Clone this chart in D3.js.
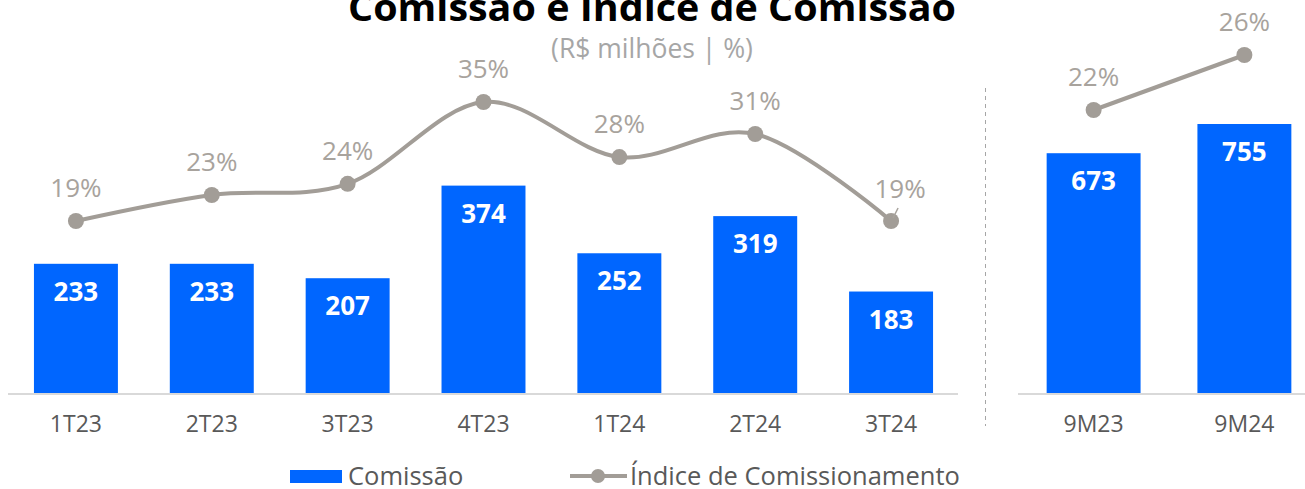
<!DOCTYPE html>
<html>
<head>
<meta charset="utf-8">
<script src="https://cdn.jsdelivr.net/npm/d3@7.9.0/dist/d3.min.js"></script>
<style>
  body { margin: 0; background: #fff; }
  svg { display: block; font-family: 'Open Sans', Roboto, sans-serif; }
</style>
</head>
<body>
<svg id="chart" width="1305" height="489"></svg>
<script>
// quarterly data
const quarters = ['1T23', '2T23', '3T23', '4T23', '1T24', '2T24', '3T24'];
const comissao = [233, 233, 207, 374, 252, 319, 183];
const indice = [19.0, 22.5, 24.0, 35.0, 27.6, 30.7, 19.0];

// year-to-date data
const periods = ['9M23', '9M24'];
const comissaoYtd = [673, 755];
const indiceYtd = [22, 26];

const blue = '#0066ff';
const lineGray = '#a29d97';
const labelGray = '#a8a39d';
const textGray = '#595959';

const svg = d3.select('#chart');
const baseY = 393;

// scales
const xQ = d3.scaleBand().domain(quarters).range([8, 959]).paddingInner(0.382).paddingOuter(0.191);
const yQ = d3.scaleLinear().domain([0, 400]).range([baseY, baseY - 400 * 0.5545]);
const pQ = d3.scaleLinear().domain([19, 35]).range([221, 102]);

const xY = d3.scaleBand().domain(periods).range([1018, 1320]).paddingInner(0.377).paddingOuter(0.19);
const yY = d3.scaleLinear().domain([0, 755]).range([baseY, 124]);
const pY = d3.scaleLinear().domain([22, 26]).range([110, 55]);

// title
svg.append('text')
  .attr('x', 652).attr('y', 21)
  .attr('text-anchor', 'middle')
  .attr('font-size', 38).attr('font-weight', 700).attr('fill', '#000')
  .attr('textLength', 608).attr('lengthAdjust', 'spacingAndGlyphs')
  .text('Comissão e Índice de Comissão');

svg.append('text')
  .attr('x', 652).attr('y', 58)
  .attr('text-anchor', 'middle')
  .attr('font-size', 26.5).attr('fill', '#a6a6a6')
  .text('(R$ milhões | %)');

function drawPanel(cats, bars, pct, x, y, p, axisEnd, curve) {
  const g = svg.append('g');

  g.append('line')
    .attr('x1', x.range()[0]).attr('x2', axisEnd)
    .attr('y1', baseY + 1).attr('y2', baseY + 1)
    .attr('stroke', '#d9d9d9').attr('stroke-width', 2);

  g.selectAll('rect.bar')
    .data(cats)
    .join('rect')
    .attr('class', 'bar')
    .attr('x', d => x(d))
    .attr('width', x.bandwidth())
    .attr('y', (d, i) => y(bars[i]))
    .attr('height', (d, i) => baseY - y(bars[i]))
    .attr('fill', blue);

  g.selectAll('text.val')
    .data(cats)
    .join('text')
    .attr('class', 'val')
    .attr('x', d => x(d) + x.bandwidth() / 2)
    .attr('y', (d, i) => y(bars[i]) + 37)
    .attr('text-anchor', 'middle')
    .attr('font-size', 26).attr('font-weight', 700).attr('fill', '#fff')
    .text((d, i) => bars[i]);

  g.selectAll('text.cat')
    .data(cats)
    .join('text')
    .attr('class', 'cat')
    .attr('x', d => x(d) + x.bandwidth() / 2)
    .attr('y', 432)
    .attr('text-anchor', 'middle')
    .attr('font-size', 23).attr('fill', textGray)
    .text(d => d);

  const line = d3.line()
    .x((d, i) => x(cats[i]) + x.bandwidth() / 2)
    .y(d => p(d))
    .curve(curve);

  g.append('path')
    .datum(pct)
    .attr('d', line)
    .attr('fill', 'none')
    .attr('stroke', lineGray)
    .attr('stroke-width', 4);

  g.selectAll('circle')
    .data(pct)
    .join('circle')
    .attr('cx', (d, i) => x(cats[i]) + x.bandwidth() / 2)
    .attr('cy', d => p(d))
    .attr('r', 8)
    .attr('fill', lineGray);

  return g;
}

const left = drawPanel(quarters, comissao, indice, xQ, yQ, pQ, 958, d3.curveCardinal.tension(0));
const right = drawPanel(periods, comissaoYtd, indiceYtd, xY, yY, pY, 1305, d3.curveLinear);

// percentage labels
const last = quarters.length - 1;
left.selectAll('text.pct')
  .data(indice)
  .join('text')
  .attr('class', 'pct')
  .attr('x', (d, i) => xQ(quarters[i]) + xQ.bandwidth() / 2 + (i === last ? 9 : 0))
  .attr('y', (d, i) => pQ(d) - (i === last ? 23 : 24))
  .attr('text-anchor', 'middle')
  .attr('font-size', 26).attr('fill', labelGray)
  .text(d => Math.round(d) + '%');

// leader for the last label
const lx = xQ(quarters[last]) + xQ.bandwidth() / 2;
left.append('line')
  .attr('x1', lx + 2).attr('y1', pQ(indice[last]) - 3)
  .attr('x2', lx + 7).attr('y2', pQ(indice[last]) - 13)
  .attr('stroke', labelGray).attr('stroke-width', 1.5);

right.selectAll('text.pct')
  .data(indiceYtd)
  .join('text')
  .attr('class', 'pct')
  .attr('x', (d, i) => xY(periods[i]) + xY.bandwidth() / 2)
  .attr('y', d => pY(d) - 24)
  .attr('text-anchor', 'middle')
  .attr('font-size', 26).attr('fill', labelGray)
  .text(d => d + '%');

// separator
svg.append('line')
  .attr('x1', 985.5).attr('x2', 985.5)
  .attr('y1', 88).attr('y2', 426)
  .attr('stroke', '#a6a6a6').attr('stroke-width', 1)
  .attr('stroke-dasharray', '4,4');

// legend
const lg = svg.append('g');
lg.append('rect').attr('x', 290).attr('y', 470).attr('width', 52).attr('height', 13).attr('fill', blue);
lg.append('text').attr('x', 348).attr('y', 485).attr('font-size', 25.5).attr('fill', textGray).text('Comissão');
lg.append('line').attr('x1', 570).attr('x2', 627).attr('y1', 476).attr('y2', 476)
  .attr('stroke', lineGray).attr('stroke-width', 4);
lg.append('circle').attr('cx', 598).attr('cy', 476).attr('r', 7).attr('fill', lineGray);
lg.append('text').attr('x', 630).attr('y', 485).attr('font-size', 25.5).attr('fill', textGray).text('Índice de Comissionamento');
</script>
</body>
</html>
